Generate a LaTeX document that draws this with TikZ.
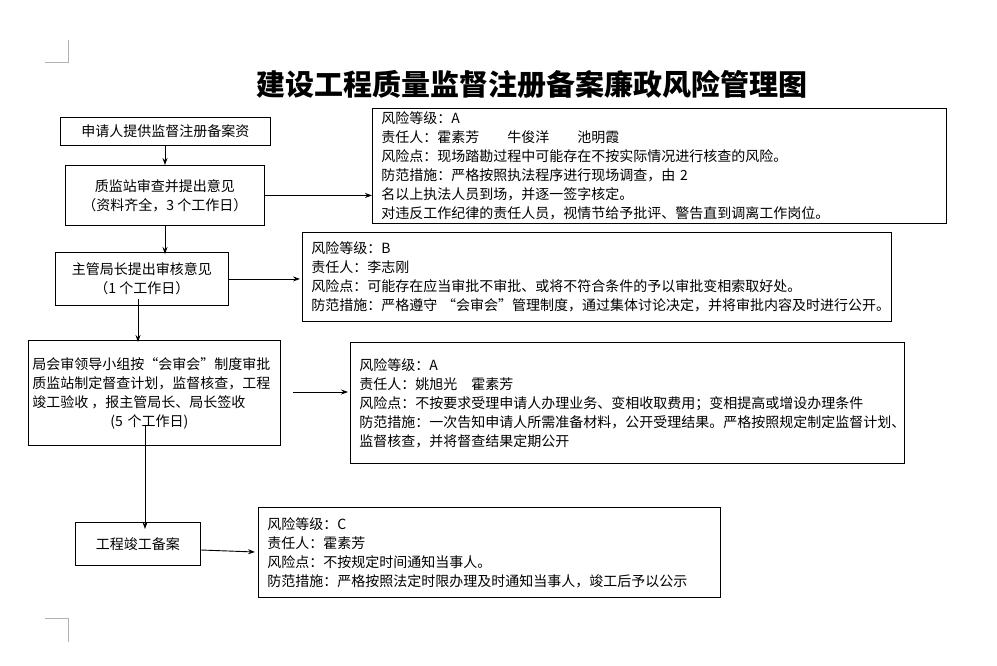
\documentclass[tikz,border=0pt]{standalone}
\usepackage{fontspec}
\setmainfont{Noto Sans CJK SC}
\usetikzlibrary{arrows.meta}
\begin{document}
\begin{tikzpicture}[x=1pt,y=-1pt,
  box/.style={draw,line width=0.9pt,anchor=north west,inner sep=0pt,align=center,font=\fontsize{14}{19}\selectfont},
  risk/.style={draw,line width=0.9pt,anchor=north west,inner xsep=9pt,inner ysep=0pt,align=left,font=\fontsize{14}{19}\selectfont},
  arr/.style={-{Stealth[length=7pt,width=5pt]},line width=0.9pt},
  cornermark/.style={draw=gray!60,line width=0.5pt}]
\useasboundingbox (0,0) rectangle (997,666);
\fill[white] (0,0) rectangle (997,666);
\draw[cornermark] (45,62) -- (68,62) -- (68,40);
\draw[cornermark] (45,618) -- (68,618) -- (68,642);
\node[font=\fontsize{29}{34}\selectfont\bfseries] (title) at (532,84) {建设工程质量监督注册备案廉政风险管理图};
\node[box,minimum width=210pt,minimum height=28pt] (a) at (60,117) {申请人提供监督注册备案资};
\node[box,minimum width=199pt,minimum height=60pt] (b) at (65,165) {质监站审查并提出意见\\（资料齐全，3 个工作日）};
\node[box,minimum width=173pt,minimum height=53pt] (c) at (55,252) {主管局长提出审核意见\\（1 个工作日）};
\node[box,minimum width=252pt,minimum height=105pt,text width=244pt,align=left] (d) at (28,340) {局会审领导小组按“会审会”制度审批\\质监站制定督查计划，监督核查，工程\\竣工验收\hspace{3pt}，报主管局长、局长签收\\\hspace*{78pt}(5 个工作日)};
\node[box,minimum width=125pt,minimum height=43pt] (e) at (75,522) {工程竣工备案};
\node[risk,text width=556pt,minimum height=115pt] (r1) at (372,108) {风险等级：A\\责任人：霍素芳\hspace{2em}牛俊洋\hspace{2em}池明霞\\风险点：现场踏勘过程中可能存在不按实际情况进行核查的风险。\\防范措施：严格按照执法程序进行现场调查，由 2 名以上执法人员到场，并逐一签字核定。\\对违反工作纪律的责任人员，视情节给予批评、警告直到调离工作岗位。};
\node[risk,text width=571pt,minimum height=89pt] (r2) at (302,232) {风险等级：B\\责任人：李志刚\\风险点：可能存在应当审批不审批、或将不符合条件的予以审批变相索取好处。\\防范措施：严格遵守 “会审会”管理制度，通过集体讨论决定，并将审批内容及时进行公开。};
\node[risk,text width=536pt,minimum height=121pt] (r3) at (350,342) {风险等级：A\\责任人：姚旭光\hspace{1em}霍素芳\\风险点：不按要求受理申请人办理业务、变相收取费用；变相提高或增设办理条件\\防范措施：一次告知申请人所需准备材料，公开受理结果。严格按照规定制定监督计划、\\监督核查，并将督查结果定期公开\\[10pt]};
\node[risk,text width=444pt,minimum height=90pt] (r4) at (258,507) {风险等级：C\\责任人：霍素芳\\风险点：不按规定时间通知当事人。\\防范措施：严格按照法定时限办理及时通知当事人，竣工后予以公示};
\draw[arr] (a.south -| 165,0) -- (b.north -| 165,0);
\draw[arr] (b.east) -- (r1.west |- b.east);
\draw[arr] (b.south -| 165,0) -- ([yshift=-2pt]c.north -| 165,0);
\draw[arr] (c.east) -- ([xshift=-2pt]r2.west |- c.east);
\draw[arr] ([yshift=7pt]c.south -| 138,0) -- ([yshift=-2pt]d.north -| 138,0);
\draw[arr] ([xshift=12pt]d.east |- 0,392) -- ([xshift=-2pt]r3.west |- 0,392);
\draw[arr] ([yshift=20pt]d.south -| 145,0) -- ([yshift=-7pt]e.north -| 145,0);
\draw[arr] (e.east |- 0,550) -- ([xshift=-3pt]r4.west |- 0,552);
\end{tikzpicture}
\end{document}
